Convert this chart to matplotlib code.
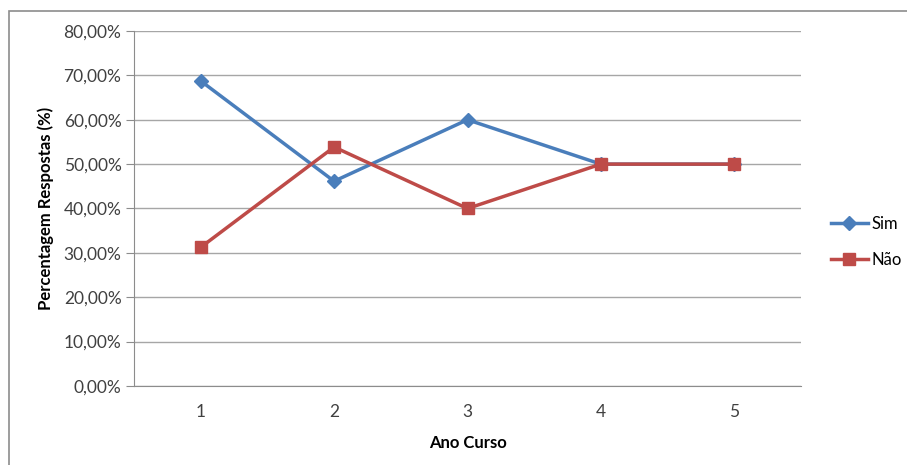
import matplotlib.pyplot as plt
from matplotlib.patches import Rectangle
from matplotlib.ticker import FuncFormatter

anos = [1, 2, 3, 4, 5]
sim = [68.75, 46.15, 60.0, 50.0, 50.0]
nao = [31.25, 53.85, 40.0, 50.0, 50.0]
y_ticks = [0, 10, 20, 30, 40, 50, 60, 70, 80]

plt.rcParams['font.family'] = ['Lato', 'DejaVu Sans']

fig = plt.figure(figsize=(9.07, 4.65), dpi=100)
# chart area border (Excel style)
fig.patches.append(Rectangle((9 / 907, -0.05), 1.0, (465 - 11) / 465 + 0.05,
                             transform=fig.transFigure, fill=False,
                             edgecolor='#8c8c8c', linewidth=1.2))

ax = fig.add_axes([134 / 907, 79 / 465, 667 / 907, 355 / 465])
ax.plot(anos, sim, color='#4A7EBB', linewidth=2.5, marker='D', markersize=7,
        label='Sim')
ax.plot(anos, nao, color='#BE4B48', linewidth=2.5, marker='s', markersize=8,
        label='Não')

ax.set_xlim(0.5, 5.5)
ax.set_ylim(0, 80)
ax.set_xticks(anos)
ax.set_yticks(y_ticks)
ax.yaxis.set_major_formatter(FuncFormatter(lambda v, p: f'{v:.2f}%'.replace('.', ',')))
ax.grid(axis='y', color='#a6a6a6', linewidth=1)
ax.set_axisbelow(True)
for s in ['top', 'right']:
    ax.spines[s].set_visible(False)
for s in ['left', 'bottom']:
    ax.spines[s].set_color('#8c8c8c')
ax.tick_params(axis='x', length=0, pad=13, labelsize=12.5, colors='#404040')
ax.tick_params(axis='y', length=6, color='#8c8c8c', pad=3, labelsize=12.5,
               labelcolor='#404040')

ax.set_xlabel('Ano Curso', fontsize=12, fontweight='bold', labelpad=11)
ax.set_ylabel('Percentagem Respostas (%)', fontsize=12, fontweight='bold', labelpad=7)

ax.legend(loc='center left', bbox_to_anchor=(1.025, 0.405), frameon=False,
          fontsize=12, handlelength=2.2, labelspacing=1.2, handletextpad=0.2,
          borderpad=0.3)

fig.savefig('out.png', dpi=100)
